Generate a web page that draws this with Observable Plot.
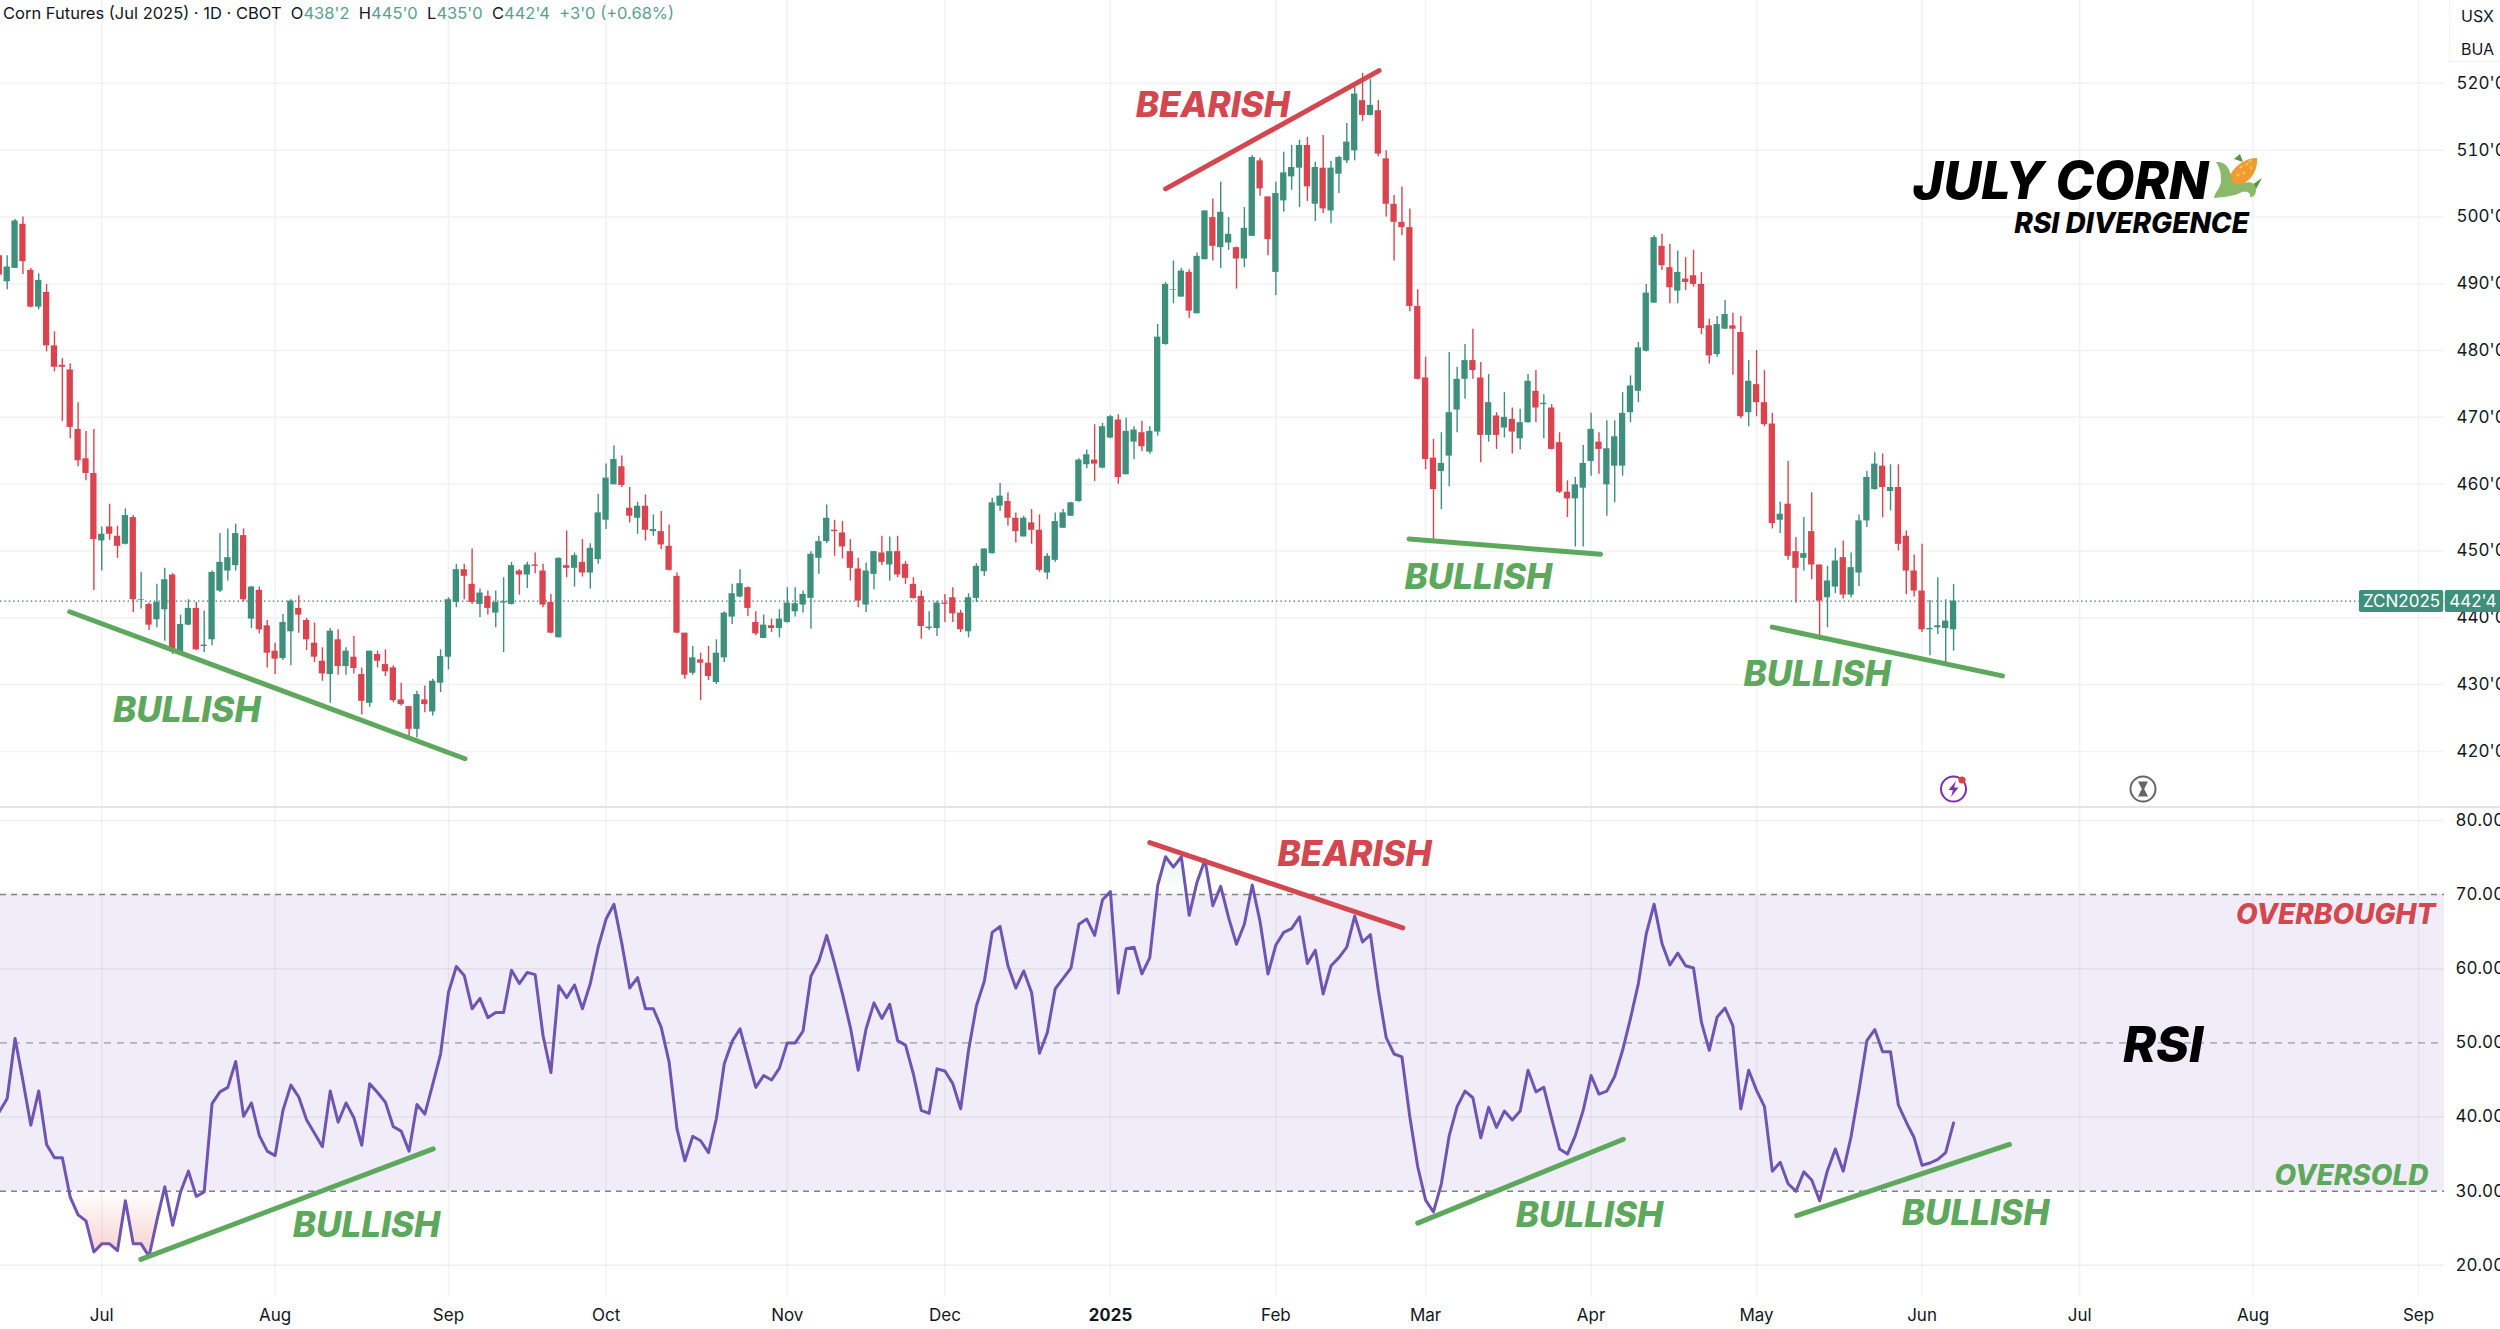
<!DOCTYPE html>
<html><head><meta charset="utf-8">
<script src="https://cdn.jsdelivr.net/npm/d3@7"></script>
<script src="https://cdn.jsdelivr.net/npm/@observablehq/plot@0.6"></script>
<style>
html,body{margin:0;padding:0;background:#fff;overflow:hidden;width:2500px;height:1329px}
#page{position:relative;width:2500px;height:1329px;font-family:Inter,sans-serif;color:#131722}
#top,#bottom{position:absolute;left:0;width:2500px}
#top{top:0}#bottom{top:807px}
#sep{position:absolute;left:0;top:805.5px;width:2500px;height:2px;background:#e3e4e8}
#legend{position:absolute;left:3px;top:2px;font-size:16.5px;line-height:22px;white-space:pre;background:transparent}
#legend span{color:#5a9f8f}
#units{position:absolute;left:2449px;top:0;width:51px;height:62px;border-left:1px solid #f0f1f5;border-bottom:1px solid #f0f1f5;box-sizing:border-box;font-size:16px;padding-left:11px;line-height:33px}
svg.icon{position:absolute;overflow:visible}
</style></head><body>
<div id="page">
<div id="top"></div><div id="bottom"></div><div id="sep"></div>
<div id="legend">Corn Futures (Jul 2025) · 1D · CBOT  O<span>438'2</span>  H<span>445'0</span>  L<span>435'0</span>  C<span>442'4</span>  <span>+3'0 (+0.68%)</span></div>
<div id="units">USX<br>BUA</div>
<svg class="icon" style="left:2214px;top:153px" width="48" height="45" viewBox="0 0 48 45">
<path d="M20 6 L26 1 L29 9 Z" fill="#5b8f45"/>
<path d="M38 32 L48 25 L42 36 Z" fill="#5b8f45"/>
<path d="M14 26 C20 12 32 5 43 5 C44 18 36 30 22 34 Z" fill="#ef9a32"/>
<g fill="#f6c24e"><circle cx="27" cy="14" r="1.6"/><circle cx="33" cy="11" r="1.6"/><circle cx="37" cy="15" r="1.6"/><circle cx="30" cy="20" r="1.6"/><circle cx="24" cy="22" r="1.6"/><circle cx="36" cy="8" r="1.6"/></g>
<path d="M2 9 C10 8 16 14 17 24 C18 30 22 34 30 30 C36 28 42 30 42 36 C42 40 41 44 36 44 C37 40 34 38 28 39 C18 44 8 44 0 45 C1 38 8 34 7 26 C7 18 5 14 2 9 Z" fill="#8ab96a"/>
</svg>
<svg class="icon" style="left:1940px;top:775px" width="28" height="28" viewBox="0 0 28 28">
<circle cx="13.5" cy="14" r="12.5" fill="none" stroke="#7b2fa8" stroke-width="2"/>
<path d="M16 6 L8.5 15 L13 15 L11 22 L18.5 12.5 L14 12.5 Z" fill="#7b2fa8"/>
<circle cx="22" cy="5" r="3.6" fill="#d8453c"/>
</svg>
<svg class="icon" style="left:2129px;top:775px" width="28" height="28" viewBox="0 0 28 28">
<circle cx="14" cy="14" r="12.5" fill="none" stroke="#666" stroke-width="2"/>
<path d="M9 6.5 H19 L15.2 14 L19 21.5 H9 L12.8 14 Z" fill="#666"/>
</svg>
</div>
<script>
const opens = [494.2,490.3,492.3,498.9,492,486.5,488.7,480.7,477.8,477.1,
468.2,463.8,461.6,451.5,453.6,452.2,451,455,442.6,442,
439.7,441.2,446.4,434.8,438.9,441.4,435.7,436.7,444,447,
447.8,452.3,439.8,444.1,438.8,435,433.9,437.9,441.4,439.6,
436.2,433.5,431.5,436.7,432.7,434.1,431.5,427.2,434.5,433,
432.5,427.7,426.7,423.3,427.7,425.9,430.2,434.1,442.3,447.2,
445,442,443.2,440.7,442.2,442,447,446.4,447.9,447,
442.3,437,447.8,447.4,448.3,446.7,448.7,
454.6,459.9,462.6,
456.4,454.9,456.7,452.9,452.9,450.7,446.2,437.7,431.7,433.7,
433.2,430.3,434,440.1,443.1,444.5,439.3,436.9,438.8,438.4,
439.3,440.9,441.9,442.9,448.9,451.4,453.1,452.7,449.9,447.3,
441.9,446.5,449.7,447.9,449.9,448,445,443.2,438.4,438.4,
442.2,443,440.7,437.9,442.9,446.9,449.6,456.7,457.4,454.9,
452.1,454.2,453.1,446.7,448.6,453.4,455.2,457.4,462.9,463.6,
462.4,466.9,469.6,461.4,466.3,467.7,464.8,
467.8,480.9,489,
488,491.7,485.5,493.6,499.9,495.4,496.1,495.4,493.7,497.1,
508.4,503,491.7,502.4,506,507.3,510.7,501.9,507.3,500.9,
506.4,508.4,509.9,517.4,515.2,515.9,508.7,501.9,499.2,498.4,
486.6,475.9,463.9,461.9,464.2,471.1,475.7,478.5,475.9,467.3,
470.2,468.4,469.7,466.8,469.2,473.9,471.9,471.4,466.2,458.8,
457.8,459.4,463.4,466.3,459.9,462.7,462.7,470.7,473.9,479.9,
487.1,495.6,492.4,488.9,490.7,491.2,489.9,483.7,479.4,483.2,
483.7,482.7,470.7,474.9,472.2,469,454.6,457,449.9,448.9,
452.9,447.9,443,444.6,449,443.4,446.7,454.5,459.2,462.7,
458.9,459.5,452.2,447,444,438.2,438.5,438.4,438.2];
const highs = [495,494.2,499.6,500,492.3,491.5,489.9,482.8,478.8,478,
472.2,467.9,468.2,453.6,457,453.7,456.3,455.3,446.8,442.2,
445,447.4,446.6,440.4,442.7,442.3,441,447,452.6,453.3,
454,453.3,444.7,444.6,439.6,436.2,440.5,442.7,443.3,439.9,
439.2,435.5,438.4,438.2,435.5,437.2,432.5,435,435,435.2,
432.8,430.2,426.7,429,429.8,430.8,435.2,443,448,448,
450.3,444.3,444,444,446,448.3,447.2,448.3,449.7,448,
443.5,449,453,449.7,451.7,451.1,458.5,
463,465.7,464.2,
459.5,457.3,458.4,455.4,455.9,453.9,446.7,437.7,435.7,434.7,
435.7,436.7,440.9,445,447.2,444.6,440.9,440.4,439.8,441.2,
444.5,444.5,444,449.9,452.2,456.9,454.6,454.4,451.7,448.9,
448.2,449.9,452.2,452.1,452.2,448.4,446,444,440.9,442.5,
443.5,444.5,441.1,443.6,448.1,450.3,457.9,460.1,458.7,455.7,
455.2,456.2,455.4,449.6,455.7,456.2,457.3,463.8,465.1,468.9,
469.1,470.3,470.4,469.9,468.6,469.4,468.6,
483.9,490.2,493.4,
492.3,492.1,494.6,500.9,502.7,505.2,499.9,495.5,501.4,509.2,
508.8,503,505.2,509.7,510.7,511.5,511.9,508.2,512.2,508.3,
509.1,514,520,521.5,520.6,517.4,509.9,503.2,504.5,501.2,
489.1,479,466.7,467.7,479.7,477.5,480.9,483.2,478.2,476.4,
470.7,473.7,471.4,471.2,476.4,477,473.4,471.9,467.7,460.5,
461,465.8,470.6,467.7,469.5,469.5,473.7,476.2,481.2,489.9,
497.2,497.4,495.9,494.9,493.9,495,491.7,484.7,485.1,487.5,
485.6,485.1,478.5,480,477,470.6,457.3,463.4,452,455,
458.7,447.9,447.7,450.4,451.5,449.7,455.4,461.9,464.7,464.5,
462.9,462.9,453,449.4,451,442.6,446,442.7,445];
const lows = [490.5,489.1,492.3,491.4,486.4,486.1,479.8,476.8,469.4,466.8,
462.6,460.5,444.1,447,451.6,448.9,450.9,440.8,441.3,438.1,
438.5,436.5,434.5,434.8,438.8,435.1,434.8,435.8,443.8,445.5,
447,442.4,438.4,437.6,432.5,431.5,433.6,432.8,437.7,435.1,
433.3,430.5,427.2,431.4,431.4,431.6,425.5,426.6,432.5,431.2,
427.3,426.8,421.8,422,425.8,425.3,428.8,432.2,441.5,442.7,
442,440,440.4,438.5,434.8,441.9,443.4,444.4,446.6,441.5,
437.6,437,446,444.6,446.1,444.3,448,
453.2,459.9,459.5,
454.2,452.5,451.5,452.2,450.2,447,437.6,430.8,431.4,427.6,
430.6,430,433.3,439,443,440.2,437.3,436.9,437.8,437,
439.2,440.1,440.7,438.3,446.5,451.1,449.2,448.8,445.5,441.5,
440.8,444.2,447.8,445.5,446,445,442.8,436.8,438.1,437.2,
439.3,439.3,437.8,437,442.3,446.2,449.5,455.9,453.7,451.2,
452.1,451,446.8,445.7,448.3,453.4,455.2,457.3,462.3,460.4,
462.3,466.8,460,461.4,463.7,464.9,464.5,
467.2,480.8,487,
488,484.8,485.5,493.6,493.4,492.3,495,489.2,492.4,497.1,
503.1,494.2,488.2,500.7,504,501.4,502.3,499.3,500.5,499,
503.5,508,508.4,514.3,515.1,509,500,493.4,497.2,485.8,
475.6,462.2,451.2,456.2,459.6,467.7,472.7,475.7,463.2,466.3,
465.2,466.9,464.5,465.1,469.1,469.2,466.8,465.1,458.6,455,
450.6,450.6,461.2,461.5,455.2,457.2,461.2,469.2,472.2,479.8,
487.1,492,487,487,489,489.5,482.4,478,479,483.1,
476.3,469.8,468.6,470.1,468.6,453.3,452.6,448.6,442.2,447,
445.7,436.6,438.5,443.6,442.8,443,444.7,453.5,459.1,455,
456,450,443.5,443.1,437.8,434.3,437.5,433.3,435];
const closes = [491.3,492.5,499.4,493.3,486.5,490.5,480.7,477.5,477.5,468.5,
463.5,461.6,451.7,452.5,452.5,450.7,455.3,442.7,442.7,438.9,
442.3,445.7,435.2,439,441.4,435.2,435.9,446.8,448.3,449,
452.6,442.7,444.6,438.2,434.7,433.8,439.3,442.5,440.4,436.7,
434.1,431.6,438,432.7,435,432.4,427.5,435,433.5,431.9,
427.6,427,423.3,428.5,427,430.5,434.2,442.7,447.2,446.2,
442.3,443.7,441.4,442.3,442.4,447.8,446.4,447.9,447.7,441.9,
437.7,448.9,447.4,449.3,446.7,450.4,455.7,
460.9,463.7,459.8,
455.2,456.7,453.1,453.2,450.9,447.1,437.7,431.4,434,433.2,
431.2,434.7,440.7,443.6,445.1,441.4,437.6,438.9,438.4,439.8,
442.2,442.1,443.5,449.5,451.4,454.9,452.9,450.6,447.4,442.5,
447,449.9,448.3,449.9,446.4,445.9,442.9,438.7,438.6,442.2,
442,440.6,438.2,443,447.7,450.3,457.2,458.2,454.9,452.9,
454.9,453.1,447.1,449.2,454.4,455.7,457.2,463.6,464.4,463,
468.6,470.1,461,467.9,468.1,465.6,467.9,
482,489.9,489.1,
491.9,485.9,494.1,500.9,495.6,500.7,497.4,493.7,498.3,508.9,
504.2,496.6,503.5,506.6,507.4,510.7,504.5,507.4,501.2,507.3,
508.9,511.2,518.4,515.2,516.7,509.4,501.9,499.2,498.4,486.6,
475.7,463.7,459.2,463.1,470.7,475.7,478.5,477,467.3,472.2,
467.3,470,467.8,469.2,475.4,471.4,472.1,465.2,458.8,457.8,
459.9,463.1,468.2,465.2,465.3,467.1,470.6,474.7,480.4,488.6,
496.9,492.7,489.4,491.7,490.2,489.9,483.3,479.2,483.9,485.4,
483.2,470.1,475.4,472.2,468.9,454.1,455.5,449.2,447.4,449.6,
447.9,442.5,445.5,448.5,443.4,447.5,454.5,461,463,459.5,
459.5,451,447,444,438.2,438.4,438.8,439.5,442.5];
const rsiValues = [40.7,42.5,50.6,44.9,38.9,43.5,36.3,34.5,34.5,29.2,26.8,26,21.8,22.9,22.9,22,28.7,22.9,22.9,21.2,
26.1,30.6,25.4,29.9,32.7,29.3,29.9,41.8,43.4,44,47.5,40.1,41.9,37.5,35.4,34.8,40.9,44.3,42.7,39.6,
37.8,36,43.5,39.3,41.9,39.9,36.2,44.5,43.3,42,38.7,38.1,35.4,41.7,40.4,44.4,48.5,56.8,60.3,59.1,
54.6,56,53.4,54.1,54.1,59.8,58,59.5,59.2,51,46,57.7,56.1,57.8,54.6,58,62.9,66.7,68.7,63.4,
57.4,58.8,54.6,54.6,52.1,47.4,38.4,34.1,37.4,36.8,35.2,39.8,47.2,50.2,51.9,47.9,44,45.6,45,46.6,50,50,
51.6,59,61,64.5,60.7,56.6,52.1,46.3,51.9,55.4,53.3,55.2,50.3,49.7,45.8,40.9,40.5,46.5,46.2,44.5,
41.1,49,55,58.3,64.9,65.7,60.4,57.4,59.7,56.8,48.6,51.4,57.3,58.7,60.1,66,66.7,64.5,69.3,70.4,
56.7,62.7,62.9,59.3,61.5,71.2,75.1,73.7,75.1,67.2,71.7,74.7,68.5,71.1,66.9,63.3,66,71.3,66.3,59.3,
63.2,64.9,65.4,67,60.7,62.5,56.6,60.4,61.5,62.9,67.1,63.6,64.6,57.1,50.7,48.5,48.1,40,33.3,28.8,
27.2,31,37.5,41.4,43.5,42.6,37.2,41.3,38.6,40.8,39.6,40.8,46.3,43.4,44,39.8,35.7,35,37.5,40.9,45.6,43.1,
43.5,45.5,49,53.3,58,64.7,68.7,63.4,60.5,62.1,60.4,60.1,52.8,49,53.5,54.7,52.3,41.1,46.3,43.6,41.4,
32.7,33.9,31,30,32.6,31.5,28.7,32.8,35.7,32.7,37.4,43.6,50.3,51.8,48.8,48.8,41.6,39.3,37.2,33.5,33.8,34.3,35.2,39.2];

const monthTicks = [13,35,57,77,100,120,141,162,181,202,223,244,264,286,307];
const monthNames = ["Jul","Aug","Sep","Oct","Nov","Dec","2025","Feb","Mar","Apr","May","Jun","Jul","Aug","Sep"];
const priceTicks = [420,430,440,450,460,470,480,490,500,510,520];
const rsiTicks = [20,30,40,50,60,70,80];
const lastPrice = 442.5;

const bullishPriceLines = [
  [{i:8.93,v:440.9},{i:59.1,v:418.9}],
  [{i:178.9,v:451.8},{i:203.2,v:449.5}],
  [{i:225,v:438.6},{i:254.2,v:431.3}]
];
const bearishPriceLine = [{i:148,v:504.2},{i:175.1,v:521.9}];
const bullishRsiLines = [
  [{i:17.96,v:20.8},{i:55.06,v:35.7}],
  [{i:180,v:25.7},{i:206.1,v:37}],
  [{i:228.1,v:26.7},{i:255.1,v:36.3}]
];
const bearishRsiLine = [{i:146,v:77},{i:178.1,v:65.5}];

const GREEN="#3f8f7d", RED="#d9444f", TREND_G="#5ea85d", TREND_R="#d3474f", PURPLE="#6f55b3", GRID="#f1f2f5";
const xDomain=[0.152,310.3], FONT="Inter";
const candles = opens.map((o,i)=>({i,o,h:highs[i],l:lows[i],c:closes[i],top:Math.max(o,closes[i]),bot:Math.min(o,closes[i])}));
const rsi = rsiValues.map((r,i)=>({i,r}));
const monthLabel = d => monthNames[monthTicks.indexOf(d)];
const hw = 0.4;
const up = d=>d.c>=d.o, down = d=>d.c<d.o;
const word = (text,i,v,fill,size,extra={}) => Plot.text([{i,v}],{x:"i",y:"v",text:()=>text,fill,fontSize:size,fontWeight:800,fontStyle:"italic",fontFamily:FONT,textAnchor:"middle",lineAnchor:"middle",...extra});
const trend = (pts,stroke) => Plot.line(pts,{x:"i",y:"v",stroke,strokeWidth:5,strokeLinecap:"round"});

const topChart = Plot.plot({
  width:2500,height:807,marginLeft:0,marginRight:56,marginTop:0,marginBottom:0,
  style:{fontFamily:FONT,background:"transparent",overflow:"visible"},
  x:{domain:xDomain,axis:null},
  y:{domain:[411.6,532.4],axis:null},
  marks:[
    Plot.ruleX(monthTicks,{stroke:GRID,strokeWidth:1.5}),
    Plot.ruleY(priceTicks,{stroke:GRID,strokeWidth:1.5}),
    Plot.axisY({anchor:"right",ticks:priceTicks,tickFormat:d=>`${d}'0`,tickSize:0,tickPadding:12,fontSize:17,fill:"#131722",label:null}),
    Plot.ruleY([lastPrice],{stroke:"#3f6f66",strokeWidth:1.2,strokeDasharray:"1.4,3"}),
    Plot.ruleX(candles,{filter:up,x:"i",y1:"l",y2:"h",stroke:GREEN,strokeWidth:1.4}),
    Plot.ruleX(candles,{filter:down,x:"i",y1:"l",y2:"h",stroke:RED,strokeWidth:1.4}),
    Plot.rect(candles,{filter:up,x1:d=>d.i-hw,x2:d=>d.i+hw,y1:"bot",y2:"top",fill:GREEN}),
    Plot.rect(candles,{filter:down,x1:d=>d.i-hw,x2:d=>d.i+hw,y1:"bot",y2:"top",fill:RED}),
    bullishPriceLines.map(l=>trend(l,TREND_G)),
    trend(bearishPriceLine,TREND_R),
    word("BULLISH",23.8,426.1,TREND_G,35),
    word("BEARISH",154,516.6,TREND_R,35),
    word("BULLISH",187.7,446,TREND_G,35),
    word("BULLISH",230.7,431.5,TREND_G,35),
    word("JULY CORN",261.6,505.2,"#000",52),
    word("RSI DIVERGENCE",270.6,498.9,"#000",28),
    Plot.rect([{}],{x1:299.5,x2:310.2,y1:440.8,y2:444.1,fill:GREEN,rx:2}),
    Plot.rect([{}],{x1:310.4,x2:317.5,y1:440.8,y2:444.1,fill:GREEN,rx:2}),
    Plot.text([{}],{x:304.85,y:lastPrice,text:()=>"ZCN2025",fill:"#fff",fontSize:17,fontFamily:FONT}),
    Plot.text([{}],{x:313.9,y:lastPrice,text:()=>"442'4",fill:"#fff",fontSize:17,fontFamily:FONT})
  ]
});
document.getElementById("top").append(topChart);

const gradient = (id,color,topOpacity,bottomOpacity) => () => {
  const ns="http://www.w3.org/2000/svg";
  const defs=document.createElementNS(ns,"defs");
  const g=document.createElementNS(ns,"linearGradient");
  g.setAttribute("id",id);g.setAttribute("x1","0");g.setAttribute("x2","0");g.setAttribute("y1","0");g.setAttribute("y2","1");
  [[0,topOpacity],[1,bottomOpacity]].forEach(([o,a])=>{const s=document.createElementNS(ns,"stop");s.setAttribute("offset",o);s.setAttribute("stop-color",color);s.setAttribute("stop-opacity",a);g.append(s);});
  defs.append(g);return defs;
};

const bottomChart = Plot.plot({
  width:2500,height:522,marginLeft:0,marginRight:56,marginTop:0,marginBottom:33,
  style:{fontFamily:FONT,background:"transparent",overflow:"visible"},
  x:{domain:xDomain,axis:null},
  y:{domain:[15.8,81.74],axis:null},
  marks:[
    gradient("osGrad","#e8837a",0,0.38),
    gradient("obGrad","#7fd3a0",0.22,0),
    Plot.rect([{}],{x1:xDomain[0],x2:xDomain[1],y1:30,y2:70,fill:"#7e57c2",fillOpacity:0.115}),
    Plot.ruleX(monthTicks,{stroke:"#6a6a80",strokeOpacity:0.08,strokeWidth:1.5}),
    Plot.ruleY([20,40,60,80],{stroke:"#6a6a80",strokeOpacity:0.1,strokeWidth:1.5}),
    Plot.ruleY([30,70],{stroke:"#7f7f85",strokeWidth:1.4,strokeDasharray:"6,5"}),
    Plot.ruleY([50],{stroke:"#9a98a2",strokeWidth:1.2,strokeDasharray:"7,6"}),
    Plot.axisY({anchor:"right",ticks:rsiTicks,tickFormat:d=>d.toFixed(2),tickSize:0,tickPadding:11,fontSize:17,fill:"#131722",label:null}),
    Plot.axisX({ticks:monthTicks.filter(t=>t!==141),tickFormat:monthLabel,tickSize:0,tickPadding:12,fontSize:17,fill:"#131722",label:null,anchor:"bottom"}),
    Plot.axisX({ticks:[141],tickFormat:monthLabel,tickSize:0,tickPadding:12,fontSize:17,fontWeight:700,fill:"#131722",label:null,anchor:"bottom"}),
    Plot.areaY(rsi.filter(d=>d.i>=8&&d.i<=21),{x:"i",y1:30,y2:d=>Math.min(d.r,30),fill:"url(#osGrad)"}),
    Plot.areaY(rsi.filter(d=>d.i>=146&&d.i<=156),{x:"i",y1:70,y2:d=>Math.max(d.r,70),fill:"url(#obGrad)"}),
    Plot.line(rsi,{x:"i",y:"r",stroke:PURPLE,strokeWidth:3}),
    bullishRsiLines.map(l=>trend(l,TREND_G)),
    trend(bearishRsiLine,TREND_R),
    word("BEARISH",172,75.4,TREND_R,35),
    word("BULLISH",46.6,25.3,TREND_G,35),
    word("BULLISH",201.8,26.7,TREND_G,35),
    word("BULLISH",250.8,27,TREND_G,35),
    word("OVERBOUGHT",296.5,67.2,TREND_R,28),
    word("OVERSOLD",298.5,32.1,TREND_G,28),
    word("RSI",274.6,49.6,"#000",50)
  ]
});
document.getElementById("bottom").append(bottomChart);
</script>
</body></html>
